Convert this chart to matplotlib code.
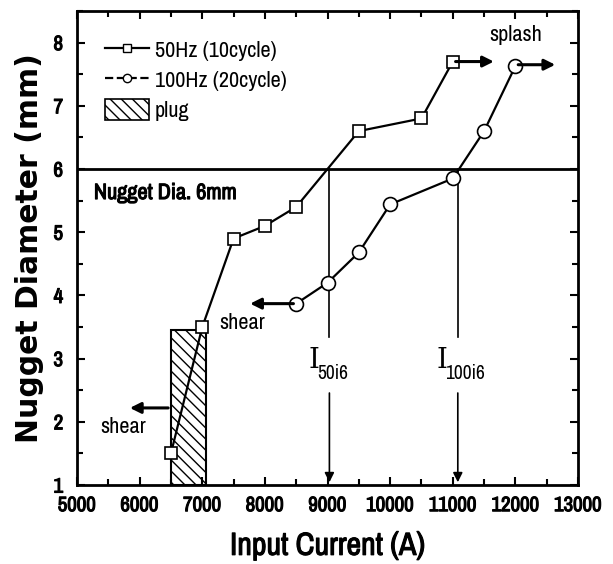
import matplotlib.pyplot as plt
import matplotlib.patheffects as pe
from matplotlib.lines import Line2D
from matplotlib.patches import Patch, Rectangle
from matplotlib.ticker import MultipleLocator
from matplotlib import font_manager

# 50Hz (10 cycle) nugget diameters
cur_50 = [6500, 7000, 7500, 8000, 8500, 9500, 10500, 11000]
dia_50 = [1.5, 3.5, 4.9, 5.1, 5.4, 6.6, 6.8, 7.7]

# 100Hz (20 cycle) nugget diameters
cur_100 = [8500, 9000, 9500, 10000, 11000, 11500, 12000]
dia_100 = [3.87, 4.2, 4.68, 5.44, 5.85, 6.6, 7.63]

# plug region
plug_x = [6500, 7060]
plug_top = 3.45

target_dia = 6
i50 = 9030
i100 = 11080

names = sorted({f.name for f in font_manager.fontManager.ttflist})
cond = [n for n in names if 'Narrow' in n or 'Condensed' in n]
narrow = cond[:1] + ['Liberation Sans', 'DejaVu Sans']

# fake bold for the narrow face
bold = [pe.withStroke(linewidth=0.8, foreground='black')]

fig = plt.figure(figsize=(6.13, 5.64), dpi=100)
ax = fig.add_axes([0.1256, 0.140, 0.8174, 0.8405])

ax.add_patch(Rectangle((plug_x[0], 1), plug_x[1] - plug_x[0], plug_top - 1,
                       facecolor='white', edgecolor='black', hatch='\\\\\\', lw=1.5, zorder=1))

ax.plot(cur_50, dia_50, '-s', color='black', lw=1.6, ms=8.5, mfc='white', mec='black', mew=1.2, zorder=3)
ax.plot(cur_100, dia_100, '-o', color='black', lw=1.6, ms=10, mfc='white', mec='black', mew=1.2, zorder=3)

ax.axhline(target_dia, color='black', lw=2, zorder=2)
ax.text(5270, 5.62, 'Nugget Dia. 6mm', fontsize=16, family=narrow, va='center', path_effects=bold)

# I50i6 / I100i6 markers
for x, sub in [(i50, '50i6'), (i100, '100i6')]:
    ax.plot([x, x], [target_dia, 3.34], color='black', lw=1.2, zorder=2)
    ax.annotate('', xy=(x, 1.0), xytext=(x, 2.5),
                arrowprops=dict(arrowstyle='-|>', color='black', lw=1.2, mutation_scale=14))
    ax.text(x - 335, 2.97, 'I', fontsize=20, ha='left', va='center', family='DejaVu Serif')
    ax.text(x - 200, 2.76, sub, fontsize=14, ha='left', va='center', family=narrow)

arrow_kw = dict(arrowstyle='-|>', color='black', lw=2.2, mutation_scale=16)
ax.annotate('', xy=(7720, 3.87), xytext=(8500, 3.87), arrowprops=arrow_kw)
ax.text(7640, 3.57, 'shear', fontsize=16, ha='center', va='center', family=narrow)
ax.annotate('', xy=(5800, 2.22), xytext=(6500, 2.22), arrowprops=arrow_kw)
ax.text(5740, 1.92, 'shear', fontsize=16, ha='center', va='center', family=narrow)

ax.annotate('', xy=(11700, 7.7), xytext=(11000, 7.7), arrowprops=arrow_kw)
ax.annotate('', xy=(12680, 7.65), xytext=(12000, 7.65), arrowprops=arrow_kw)
ax.text(12000, 8.12, 'splash', fontsize=16, ha='center', va='center', family=narrow)

ax.set_xlim(5000, 13000)
ax.set_ylim(1, 8.5)
ax.xaxis.set_major_locator(MultipleLocator(1000))
ax.xaxis.set_minor_locator(MultipleLocator(500))
ax.yaxis.set_major_locator(MultipleLocator(1))
ax.yaxis.set_minor_locator(MultipleLocator(0.5))
ax.tick_params(which='both', direction='in', top=True, right=True, width=1.5)
ax.tick_params(which='major', length=6)
ax.tick_params(which='minor', length=4)
ax.tick_params(axis='x', pad=8)
ax.tick_params(axis='y', pad=10)
for lab in ax.get_xticklabels() + ax.get_yticklabels():
    lab.set_fontsize(15)
    lab.set_family(narrow)
    lab.set_path_effects(bold)
for s in ax.spines.values():
    s.set_linewidth(2)

ax.set_xlabel('Input Current (A)', fontsize=23, family=narrow, labelpad=12, path_effects=bold)
ax.set_ylabel('Nugget Diameter (mm)', fontsize=21.5, fontweight='bold', labelpad=7)

handles = [
    Line2D([], [], color='black', ls='-', lw=1.6, marker='s', ms=6, mfc='white', mec='black'),
    Line2D([], [], color='black', ls='--', lw=1.6, marker='o', ms=6, mfc='white', mec='black'),
    Patch(facecolor='white', edgecolor='black', hatch='\\\\\\', lw=1.2),
]
ax.legend(handles, ['50Hz (10cycle)', '100Hz (20cycle)', 'plug'], loc='upper left',
          frameon=False, prop={'family': narrow, 'size': 16}, handlelength=2.0, handleheight=1.1,
          handletextpad=0.25, labelspacing=0.35, borderaxespad=0.85)

fig.savefig('out.png', dpi=100)
